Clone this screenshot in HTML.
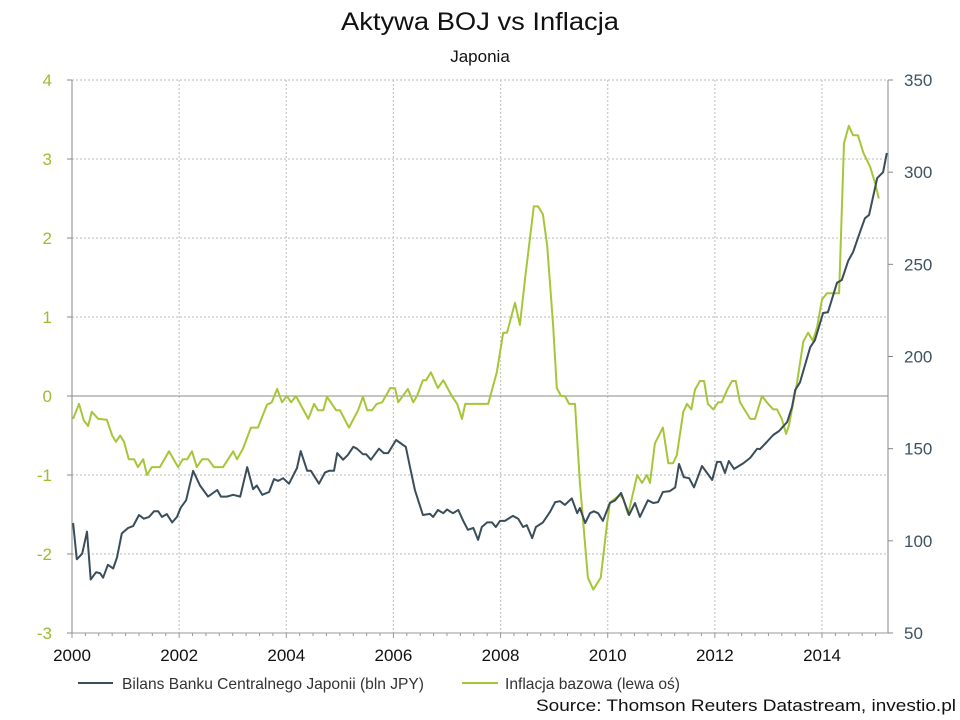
<!DOCTYPE html>
<html><head><meta charset="utf-8"><style>
html,body{margin:0;padding:0;background:#fff;}
svg{display:block;font-family:"Liberation Sans",sans-serif;}
</style></head><body>
<svg id="chart" width="960" height="720" viewBox="0 0 960 720" xmlns="http://www.w3.org/2000/svg">
<text x="480" y="30" text-anchor="middle" font-size="25" fill="#111" textLength="278" lengthAdjust="spacingAndGlyphs">Aktywa BOJ vs Inflacja</text>
<text x="480" y="62" text-anchor="middle" font-size="17" fill="#111">Japonia</text>
<g id="grid"></g>
<g id="axes"></g>
<g id="series"></g>
<g>
<line x1="78" y1="683" x2="113" y2="683" stroke="#3a4d5a" stroke-width="2"/>
<text x="122" y="689" font-size="16" fill="#333" textLength="302" lengthAdjust="spacingAndGlyphs">Bilans Banku Centralnego Japonii (bln JPY)</text>
<line x1="462" y1="683" x2="498" y2="683" stroke="#a6c63a" stroke-width="2"/>
<text x="505" y="689" font-size="16" fill="#333" textLength="175" lengthAdjust="spacingAndGlyphs">Inflacja bazowa (lewa oś)</text>
</g>
<text x="956" y="711" text-anchor="end" font-size="17" fill="#111" textLength="420" lengthAdjust="spacingAndGlyphs">Source: Thomson Reuters Datastream, investio.pl</text>
</svg>
<script>
const xTickYears=[2000,2002,2004,2006,2008,2010,2012,2014];
const leftTicks=[4,3,2,1,0,-1,-2,-3];
const rightTicks=[350,300,250,200,150,100,50];
const inflDates=[2000.02,2000.13,2000.22,2000.30,2000.37,2000.49,2000.65,2000.75,2000.82,2000.90,2000.97,2001.06,2001.16,2001.23,2001.33,2001.40,2001.49,2001.64,2001.81,2001.98,2002.07,2002.15,2002.24,2002.33,2002.43,2002.54,2002.65,2002.82,2003.01,2003.08,2003.19,2003.34,2003.47,2003.64,2003.73,2003.83,2003.92,2004.01,2004.09,2004.18,2004.41,2004.52,2004.59,2004.69,2004.76,2004.93,2005.00,2005.17,2005.34,2005.43,2005.51,2005.60,2005.69,2005.79,2005.94,2006.03,2006.09,2006.27,2006.37,2006.44,2006.55,2006.61,2006.70,2006.83,2006.93,2007.09,2007.19,2007.28,2007.34,2007.62,2007.77,2007.93,2008.05,2008.12,2008.27,2008.36,2008.46,2008.62,2008.70,2008.79,2008.87,2008.98,2009.05,2009.13,2009.20,2009.28,2009.39,2009.48,2009.63,2009.73,2009.87,2009.99,2010.04,2010.23,2010.29,2010.38,2010.55,2010.64,2010.73,2010.79,2010.88,2011.03,2011.13,2011.22,2011.29,2011.41,2011.48,2011.56,2011.63,2011.72,2011.80,2011.87,2011.97,2012.06,2012.13,2012.23,2012.32,2012.39,2012.47,2012.66,2012.75,2012.88,2012.97,2013.09,2013.16,2013.25,2013.33,2013.38,2013.53,2013.65,2013.74,2013.83,2013.91,2014.00,2014.09,2014.32,2014.41,2014.50,2014.58,2014.67,2014.77,2014.90,2014.99,2015.06];
const inflValues=[-0.29,-0.10,-0.31,-0.38,-0.20,-0.29,-0.30,-0.50,-0.58,-0.50,-0.58,-0.80,-0.80,-0.90,-0.80,-1.00,-0.90,-0.90,-0.70,-0.90,-0.80,-0.80,-0.70,-0.90,-0.80,-0.80,-0.90,-0.90,-0.70,-0.80,-0.67,-0.40,-0.40,-0.11,-0.08,0.09,-0.08,0,-0.08,0,-0.29,-0.10,-0.18,-0.18,-0.01,-0.18,-0.18,-0.40,-0.18,-0.01,-0.18,-0.18,-0.10,-0.08,0.10,0.10,-0.08,0.09,-0.08,0,0.20,0.20,0.30,0.10,0.20,0,-0.10,-0.29,-0.10,-0.10,-0.10,0.30,0.80,0.80,1.18,0.90,1.50,2.40,2.40,2.30,1.90,0.90,0.10,0,0,-0.10,-0.10,-1.10,-2.30,-2.45,-2.30,-1.60,-1.35,-1.25,-1.30,-1.50,-1.00,-1.10,-1.00,-1.10,-0.60,-0.40,-0.85,-0.85,-0.75,-0.20,-0.10,-0.17,0.08,0.19,0.19,-0.10,-0.17,-0.08,-0.08,0.08,0.19,0.19,-0.08,-0.29,-0.29,0,-0.08,-0.17,-0.17,-0.29,-0.48,-0.38,0.15,0.69,0.80,0.70,0.88,1.22,1.30,1.30,3.20,3.42,3.30,3.30,3.08,2.90,2.70,2.50];
const assetDates=[2000.02,2000.09,2000.19,2000.28,2000.35,2000.45,2000.52,2000.58,2000.67,2000.77,2000.84,2000.93,2001.05,2001.14,2001.25,2001.34,2001.44,2001.53,2001.61,2001.68,2001.77,2001.87,2001.96,2002.03,2002.13,2002.26,2002.39,2002.54,2002.71,2002.78,2002.89,2003.01,2003.14,2003.27,2003.38,2003.45,2003.55,2003.68,2003.77,2003.85,2003.94,2004.05,2004.20,2004.27,2004.39,2004.46,2004.61,2004.72,2004.80,2004.89,2004.95,2005.06,2005.15,2005.25,2005.32,2005.43,2005.49,2005.58,2005.73,2005.82,2005.90,2006.05,2006.18,2006.23,2006.31,2006.40,2006.55,2006.68,2006.74,2006.83,2006.93,2007.00,2007.11,2007.21,2007.30,2007.39,2007.49,2007.58,2007.65,2007.75,2007.84,2007.91,2007.99,2008.08,2008.23,2008.33,2008.42,2008.49,2008.59,2008.66,2008.79,2008.92,2009.02,2009.11,2009.20,2009.33,2009.43,2009.48,2009.58,2009.67,2009.74,2009.82,2009.91,2010.04,2010.14,2010.25,2010.40,2010.51,2010.60,2010.75,2010.85,2010.94,2011.03,2011.16,2011.26,2011.33,2011.42,2011.52,2011.61,2011.76,2011.95,2012.04,2012.11,2012.19,2012.26,2012.36,2012.53,2012.66,2012.79,2012.84,2012.97,2013.09,2013.20,2013.35,2013.44,2013.50,2013.59,2013.78,2013.87,2014.02,2014.11,2014.28,2014.37,2014.49,2014.58,2014.71,2014.80,2014.88,2015.03,2015.14,2015.21];
const assetValues=[109.7,90,93,105,79,83,82.5,80,87,85,91,104,107,108,114,112,113,116,116,113,114.5,110,113,118,122,138,130,124,127.6,124,124,125,124,140,128,130,125,126.5,133.5,132.5,134,131,139.5,148.7,138,138,131,137,138,138,147.6,144,146.6,151,150,147,147,144,150,147.6,147.6,154.7,152,151,140,127.6,114,114.6,113,116.7,115,117,115,116.7,111,106,107,100.5,107.5,110,110,107.5,110.8,110.8,113.5,112,107.5,108.5,101.5,107.5,110,115.6,121,121.5,119.5,123,115,117.8,109.7,115,116,115,110.8,120.5,122,126,114,120.5,113,122,120.5,121,126.5,127,129,141.7,134.6,134,129,140.6,133,142.8,142.8,136.8,143.3,139,142,145,150,149.7,153.6,157.4,159.6,164.5,172.6,181.8,186,205,209,223.6,224,240,241.5,252,256.7,267.5,275,276.8,296.8,300,310.4];

const NS="http://www.w3.org/2000/svg";
const L=72,R=888,T=80,B=633;
const X0=2000,X1=2015.232;
const xs=y=>L+(y-X0)/(X1-X0)*(R-L);
const yl=v=>B-(v+3)/7*(B-T);
const yr=v=>B-(v-50)/300*(B-T);
function mk(tag,attrs,parent){const e=document.createElementNS(NS,tag);for(const k in attrs)e.setAttribute(k,attrs[k]);parent.appendChild(e);return e;}
const grid=document.getElementById('grid'),axes=document.getElementById('axes'),series=document.getElementById('series');
leftTicks.forEach(v=>{
  if(v!==0&&v!==-3){const g=mk('line',{x1:L,x2:R,y1:yl(v),y2:yl(v),stroke:'#c8c8c8','stroke-width':1.2,'stroke-dasharray':'2,2'},grid);
  
  }
  const tk=mk('line',{x1:L-5,x2:L,y1:yl(v),y2:yl(v),stroke:'#888'},axes);
  
  
  const t=mk('text',{x:L-20,y:yl(v)+6,'text-anchor':'end','font-size':17,fill:'#9bbd2f'},axes);
  
  
  t.textContent=v;
});
rightTicks.forEach(v=>{
  const tk=mk('line',{x1:R,x2:R+5,y1:yr(v),y2:yr(v),stroke:'#888'},axes);
  
  
  const t=mk('text',{x:R+16,y:yr(v)+6,'font-size':17,fill:'#3f5260'},axes);
  
  
  t.textContent=v;
});
xTickYears.forEach(y=>{
  if(y!==2000){const g=mk('line',{x1:xs(y),x2:xs(y),y1:T,y2:B,stroke:'#c8c8c8','stroke-width':1.2,'stroke-dasharray':'2,2'},grid);
  
  }
  const t=mk('text',{x:xs(y),y:B+28,'text-anchor':'middle','font-size':17,fill:'#111'},axes);
  
  
  t.textContent=y;
});
for(let m=0;m<=15*4;m++){const y=2000+m/4;const tk=mk('line',{x1:xs(y),x2:xs(y),y1:B,y2:B+(m%8===0?5:3),stroke:'#999'},axes);
  
  }
const zl=mk('line',{x1:L,x2:R,y1:yl(0),y2:yl(0),stroke:'#888','stroke-width':1},axes);


const la=mk('line',{x1:L,x2:L,y1:T,y2:B,stroke:'#888'},axes);


const ra=mk('line',{x1:R,x2:R,y1:T,y2:B,stroke:'#888'},axes);


const ba=mk('line',{x1:L,x2:R,y1:B,y2:B,stroke:'#999'},axes);


const pI=mk('polyline',{points:inflDates.map((d,i)=>xs(d).toFixed(1)+','+yl(inflValues[i]).toFixed(1)).join(' '),fill:'none',stroke:'#a6c63a','stroke-width':2,'stroke-linejoin':'round'},series);


const pA=mk('polyline',{points:assetDates.map((d,i)=>xs(d).toFixed(1)+','+yr(assetValues[i]).toFixed(1)).join(' '),fill:'none',stroke:'#3a4d5a','stroke-width':2,'stroke-linejoin':'round'},series);


</script>
</body></html>
